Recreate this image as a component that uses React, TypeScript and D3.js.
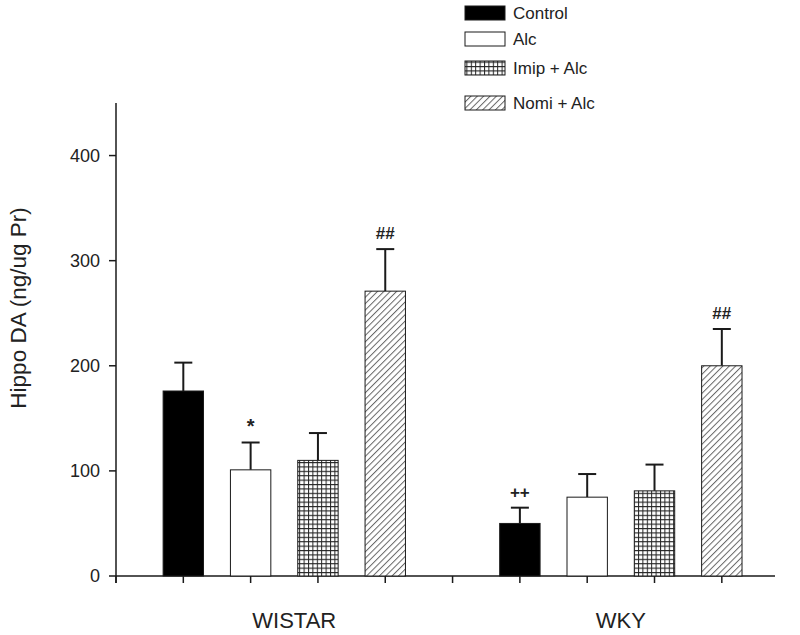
import React from "react";
import * as d3 from "d3";

const groups = ["WISTAR", "WKY"];
const series = ["Control", "Alc", "Imip + Alc", "Nomi + Alc"];
const positions = [[1, 2, 3, 4], [6, 7, 8, 9]];
const means = [[176, 101, 110, 271], [50, 75, 81, 200]];
const errors = [[27, 26, 26, 40], [15, 22, 25, 35]];
const marks = [["", "*", "", "##"], ["++", "", "", "##"]];
const yTicks = [0, 100, 200, 300, 400];
const xTicks = [0, 1, 2, 3, 4, 5, 6, 7, 8, 9];

const W = 800, H = 635;
const x = d3.scaleLinear().domain([0, 9.79]).range([116, 775]);
const y = d3.scaleLinear().domain([0, 450]).range([576, 103]);
const barW = x(0.6) - x(0);
const font = "Liberation Sans, Arial, sans-serif";
const ink = "#1a1a1a";
const labelShift = [10, 0];

const fills = ["#000", "#fff", "url(#grid)", "url(#diag)"];

export default function App() {
  return (
    <svg width={W} height={H} style={{ position: "absolute", left: 0, top: 0, background: "#fff" }} fontFamily={font}>
      <defs>
        <pattern id="grid" width={4.4} height={4.4} patternUnits="userSpaceOnUse">
          <rect width={4.4} height={4.4} fill="#fff" />
          <path d="M0,0.5 H4.4 M0.5,0 V4.4" stroke="#222" strokeWidth={1} />
        </pattern>
        <pattern id="diag" width={4.5} height={4.5} patternUnits="userSpaceOnUse" patternTransform="rotate(45)">
          <rect width={4.5} height={4.5} fill="#fff" />
          <path d="M0.5,0 V4.5" stroke="#666" strokeWidth={1} />
        </pattern>
      </defs>
      {/* y axis */}
      <line x1={x(0)} x2={x(0)} y1={y(450)} y2={y(0) + 7} stroke={ink} strokeWidth={1.5} />
      {yTicks.map((t) => (
        <g key={t}>
          <line x1={x(0) - 7} x2={x(0)} y1={y(t)} y2={y(t)} stroke={ink} strokeWidth={1.5} />
          <text x={x(0) - 16} y={y(t)} dy="0.36em" textAnchor="end" fontSize={18} fill="#222">{t}</text>
        </g>
      ))}
      <text transform={`translate(26,${y(255)}) rotate(-90)`} textAnchor="middle" fontSize={22.5} fill="#222">Hippo DA (ng/ug Pr)</text>
      {/* x axis */}
      <line x1={x(0)} x2={x(9.79)} y1={y(0)} y2={y(0)} stroke={ink} strokeWidth={1.5} />
      {xTicks.map((t) => (
        <line key={t} x1={x(t)} x2={x(t)} y1={y(0)} y2={y(0) + 7} stroke={ink} strokeWidth={1.5} />
      ))}
      {groups.map((g, gi) => (
        <text key={g} x={(x(positions[gi][0]) + x(positions[gi][3])) / 2 + labelShift[gi]} y={628} textAnchor="middle" fontSize={22} fill="#222">{g}</text>
      ))}
      {/* bars */}
      {groups.map((g, gi) =>
        series.map((s, si) => {
          const cx = x(positions[gi][si]);
          const v = means[gi][si];
          const e = errors[gi][si];
          return (
            <g key={g + s}>
              <line x1={cx} x2={cx} y1={y(v)} y2={y(v + e)} stroke={ink} strokeWidth={2} />
              <line x1={cx - 9} x2={cx + 9} y1={y(v + e)} y2={y(v + e)} stroke={ink} strokeWidth={2} />
              <rect x={cx - barW / 2} y={y(v)} width={barW} height={y(0) - y(v)} fill={fills[si]} stroke={ink} strokeWidth={1} />
              {marks[gi][si] && (
                <text x={cx} y={y(v + e) - 10} textAnchor="middle" fontSize={marks[gi][si] === "*" ? 20 : 17} fontWeight="bold" fill="#222">{marks[gi][si]}</text>
              )}
            </g>
          );
        })
      )}
      {/* legend */}
      {series.map((s, si) => {
        const ly = [6, 32, 61, 96][si];
        return (
          <g key={s}>
            <rect x={465} y={ly} width={40} height={14} fill={fills[si]} stroke={ink} strokeWidth={1} />
            <text x={513} y={ly + 13} fontSize={17} fill="#222">{s}</text>
          </g>
        );
      })}
    </svg>
  );
}
